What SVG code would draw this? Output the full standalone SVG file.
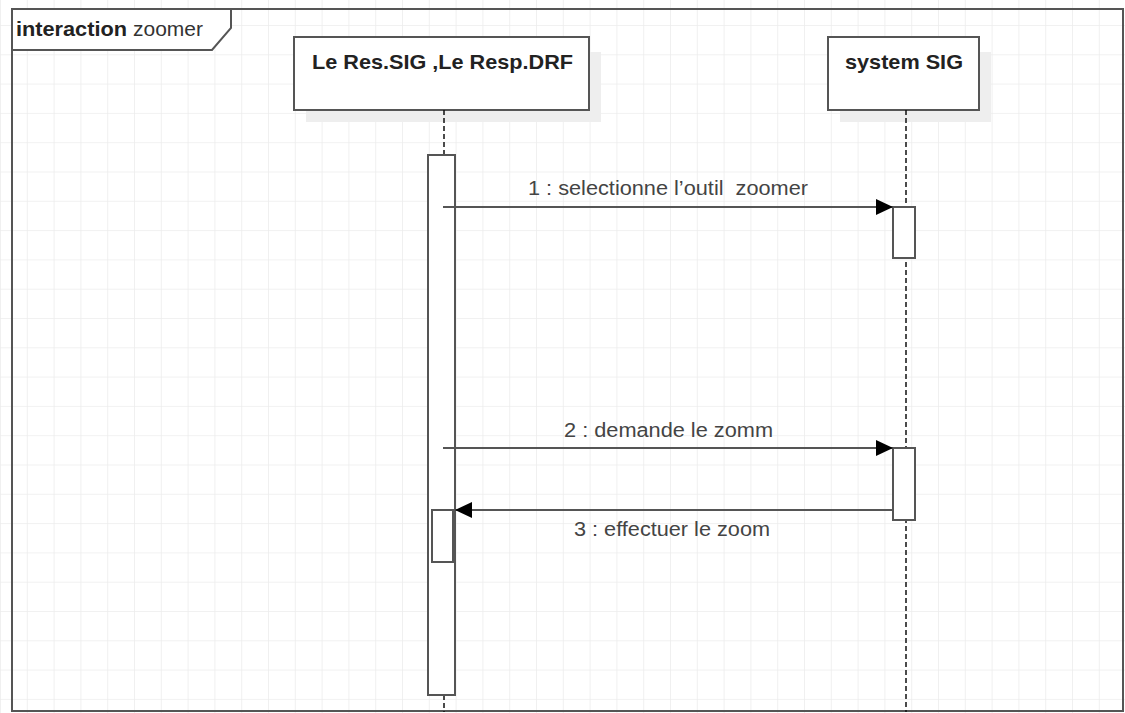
<svg xmlns="http://www.w3.org/2000/svg" width="1125" height="713" viewBox="0 0 1125 713">
<style>
.box{fill:#fff;stroke:#555;stroke-width:2}
.shadow{fill:#eee}
.act{fill:#fff;stroke:#555;stroke-width:2}
.life{stroke:#111;stroke-width:1.5;stroke-dasharray:5 3;fill:none}
.msg{stroke:#555;stroke-width:2;fill:none}
.head{font-family:"Liberation Sans",Arial,sans-serif;font-weight:bold;font-size:21px;fill:#222}
.lbl{font-family:"Liberation Sans",Arial,sans-serif;font-size:20px;fill:#444;white-space:pre}
</style>
<defs>
<pattern id="grid" x="0" y="25" width="26.8" height="29.3" patternUnits="userSpaceOnUse">
<path d="M0 0H26.8M0 0V29.3" stroke="#ededed" stroke-width="1.6" fill="none"/>
</pattern>
<marker id="ah" markerWidth="18" markerHeight="16" refX="17" refY="8" orient="auto" markerUnits="userSpaceOnUse">
<path d="M0 0L17 8L0 16Z" fill="#000"/>
</marker>
</defs>
<rect width="1125" height="713" fill="#fff"/>
<rect width="1125" height="713" fill="url(#grid)"/>
<g id="frame">
<rect x="12" y="9" width="1111" height="702" fill="none" stroke="#555" stroke-width="2"/>
<path d="M12 9H231V28L212 50H12Z" fill="#fff" stroke="#555" stroke-width="2"/>
<text x="16" y="36" class="head" style="font-size:20px" textLength="111" lengthAdjust="spacingAndGlyphs">interaction</text>
<text x="133" y="36" style="font-family:'Liberation Sans',Arial,sans-serif;font-size:20px;fill:#333" textLength="70" lengthAdjust="spacingAndGlyphs">zoomer</text>
</g>
<g id="lifeline-resp">
<rect class="shadow" x="306" y="52" width="295" height="70"/>
<rect class="box" x="294" y="37" width="295" height="73"/>
<text x="312" y="69" class="head" textLength="261" lengthAdjust="spacingAndGlyphs">Le Res.SIG ,Le Resp.DRF</text>
<line class="life" x1="444" y1="110" x2="444" y2="155"/>
<line class="life" x1="444" y1="695" x2="444" y2="712"/>
</g>
<g id="lifeline-system">
<rect class="shadow" x="840" y="52" width="151" height="70"/>
<rect class="box" x="828" y="37" width="151" height="73"/>
<text x="845" y="69" class="head" textLength="118" lengthAdjust="spacingAndGlyphs">system SIG</text>
<line class="life" x1="906" y1="110" x2="906" y2="712"/>
</g>
<g id="activations">
<rect class="act" x="428" y="155" width="27" height="540"/>
<rect class="act" x="893" y="207" width="22" height="51"/>
<rect class="act" x="893" y="448" width="22" height="72"/>
<rect class="act" x="432" y="510" width="21" height="52"/>
</g>
<g id="connectors">
<line class="msg" x1="443" y1="207" x2="893" y2="207" marker-end="url(#ah)"/>
<line class="msg" x1="443" y1="448" x2="893" y2="448" marker-end="url(#ah)"/>
<line class="msg" x1="893" y1="510" x2="455" y2="510" marker-end="url(#ah)"/>
<text x="528" y="195" class="lbl" textLength="280" lengthAdjust="spacingAndGlyphs">1 : selectionne l’outil  zoomer</text>
<text x="564" y="437" class="lbl" textLength="209" lengthAdjust="spacingAndGlyphs">2 : demande le zomm</text>
<text x="574" y="536" class="lbl" textLength="196" lengthAdjust="spacingAndGlyphs">3 : effectuer le zoom</text>
</g>
</svg>
